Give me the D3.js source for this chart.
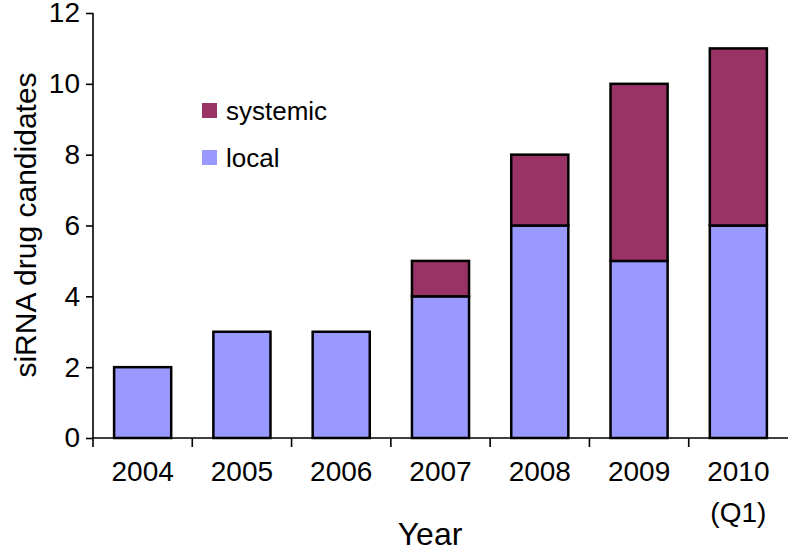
<!DOCTYPE html>
<html>
<head>
<meta charset="utf-8">
<script src="https://cdn.jsdelivr.net/npm/d3@7"></script>
<style>
body { margin: 0; background: #fff; }
text { font-family: "Liberation Sans", Arial, sans-serif; fill: #000; }
</style>
</head>
<body>
<script>
// stacked bars: siRNA candidates per year
var years = ["2004", "2005", "2006", "2007", "2008", "2009", "2010"];
var yearSub = ["", "", "", "", "", "", "(Q1)"];
var local = [2, 3, 3, 4, 6, 5, 6];
var systemic = [0, 0, 0, 1, 2, 5, 5];
var yTicks = [0, 2, 4, 6, 8, 10, 12];
var seriesNames = ["systemic", "local"];
var seriesColors = ["#993366", "#9999ff"];

var w = 790, h = 556;
var x0 = 93, x1 = 788, yTop = 13, yBot = 438;

var svg = d3.select("body").append("svg")
	.attr("width", w)
	.attr("height", h);

var x = d3.scaleBand()
	.domain(years)
	.range([x0, x1])
	.paddingInner(0.425)
	.paddingOuter(0.2125);
var y = d3.scaleLinear()
	.domain([0, 12])
	.range([yBot, yTop]);

var rows = years.map(function(d, i) {
	return {year: d, local: local[i], systemic: systemic[i]};
});
var stack = d3.stack().keys(["local", "systemic"])(rows);
var colorOf = {local: seriesColors[1], systemic: seriesColors[0]};

// bars
stack.forEach(function(layer) {
	svg.append("g").selectAll("rect")
		.data(layer.filter(function(d) { return d[1] > d[0]; }))
		.enter().append("rect")
		.attr("x", function(d) { return x(d.data.year); })
		.attr("y", function(d) { return y(d[1]); })
		.attr("width", x.bandwidth())
		.attr("height", function(d) { return y(d[0]) - y(d[1]); })
		.attr("fill", colorOf[layer.key])
		.attr("stroke", "#000")
		.attr("stroke-width", 2.5);
});

// y axis
var yAxis = svg.append("g")
	.attr("transform", "translate(" + x0 + ",0)")
	.call(d3.axisLeft(y).tickValues(yTicks).tickSize(7).tickPadding(6));
yAxis.selectAll("text").style("font-size", "28px")
	.attr("font-family", "Liberation Sans, Arial, sans-serif");
yAxis.selectAll("line, path").attr("stroke", "#000").attr("stroke-width", 1.6);
yAxis.select(".domain").attr("d", "M0," + yBot + "V" + yTop);

// x axis, ticks between categories
var step = x.step();
var xg = svg.append("g");
xg.append("line")
	.attr("x1", x0).attr("x2", x1)
	.attr("y1", yBot).attr("y2", yBot)
	.attr("stroke", "#000").attr("stroke-width", 1.6);
xg.selectAll(".sep")
	.data(d3.range(years.length))
	.enter().append("line")
	.attr("x1", function(i) { return x0 + i * step; })
	.attr("x2", function(i) { return x0 + i * step; })
	.attr("y1", yBot).attr("y2", yBot + 9)
	.attr("stroke", "#000").attr("stroke-width", 1.6);
xg.selectAll(".lbl")
	.data(years)
	.enter().append("text")
	.attr("x", function(d) { return x(d) + x.bandwidth() / 2; })
	.attr("y", 481)
	.attr("text-anchor", "middle")
	.style("font-size", "28px")
	.text(function(d) { return d; });
xg.selectAll(".sub")
	.data(years.filter(function(d, i) { return yearSub[i]; }))
	.enter().append("text")
	.attr("x", function(d) { return x(d) + x.bandwidth() / 2; })
	.attr("y", 522)
	.attr("text-anchor", "middle")
	.style("font-size", "28px")
	.text(function(d) { return yearSub[years.indexOf(d)]; });

// axis titles
svg.append("text")
	.attr("x", 430).attr("y", 545)
	.attr("text-anchor", "middle")
	.style("font-size", "32px")
	.text("Year");
svg.append("text")
	.attr("transform", "translate(36,225) rotate(-90)")
	.attr("text-anchor", "middle")
	.style("font-size", "30px")
	.text("siRNA drug candidates");

// legend
var leg = svg.append("g").selectAll("g")
	.data(seriesNames)
	.enter().append("g")
	.attr("transform", function(d, i) { return "translate(202," + (103 + i * 47) + ")"; });
leg.append("rect")
	.attr("width", 15).attr("height", 15)
	.attr("fill", function(d, i) { return seriesColors[i]; });
leg.append("text")
	.attr("x", 24).attr("y", 17)
	.style("font-size", "26px")
	.text(function(d) { return d; });
</script>
</body>
</html>
